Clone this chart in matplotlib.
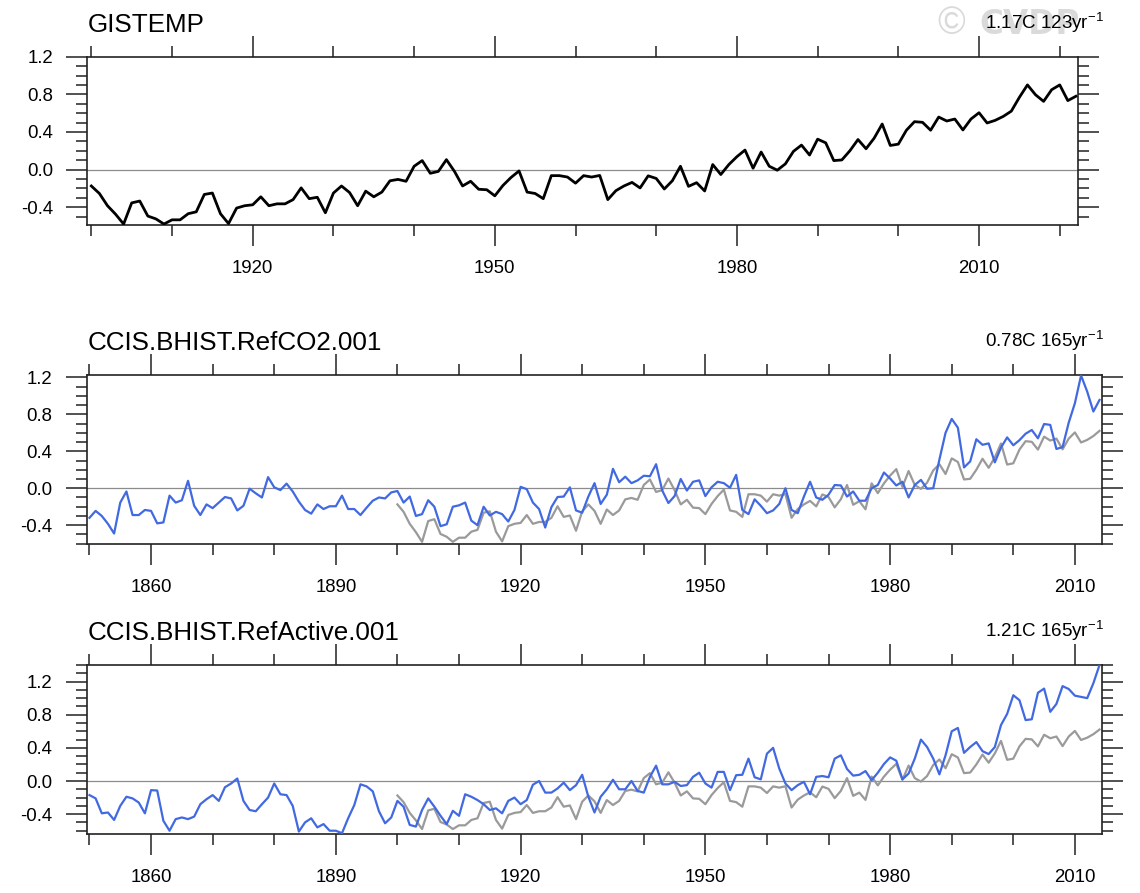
import numpy as np
import matplotlib
matplotlib.use("Agg")
import matplotlib.pyplot as plt
from matplotlib.ticker import MultipleLocator

plt.rcParams['font.family'] = ['Liberation Sans', 'DejaVu Sans']

# ---------------- data ----------------
obs_years = np.arange(1900, 2023)
gistemp = [
    -0.175, -0.255, -0.385, -0.475, -0.58, -0.355, -0.335, -0.495, -0.525, -0.58,
    -0.535, -0.535, -0.47, -0.45, -0.265, -0.25, -0.47, -0.575, -0.41, -0.385,
    -0.375, -0.29, -0.385, -0.365, -0.365, -0.32, -0.195, -0.31, -0.295, -0.46,
    -0.25, -0.175, -0.245, -0.385, -0.23, -0.29, -0.24, -0.12, -0.105, -0.125,
    0.035, 0.095, -0.04, -0.02, 0.105, -0.02, -0.175, -0.125, -0.21, -0.215,
    -0.28, -0.17, -0.085, -0.015, -0.24, -0.255, -0.31, -0.065, -0.065, -0.08,
    -0.145, -0.065, -0.08, -0.063, -0.32, -0.225, -0.175, -0.137, -0.196, -0.067,
    -0.095, -0.207, -0.119, 0.035, -0.179, -0.14, -0.228, 0.053, -0.053, 0.053,
    0.137, 0.207, 0.014, 0.186, 0.035, -0.007, 0.06, 0.193, 0.26, 0.154,
    0.323, 0.284, 0.095, 0.102, 0.2, 0.319, 0.221, 0.333, 0.484, 0.256,
    0.27, 0.418, 0.509, 0.502, 0.418, 0.558, 0.516, 0.537, 0.421, 0.537,
    0.604, 0.495, 0.523, 0.565, 0.621, 0.768, 0.9, 0.795, 0.725, 0.849,
    0.9, 0.733, 0.779,
]

model_years = np.arange(1850, 2015)
refco2 = [
    -0.32, -0.245, -0.30, -0.385, -0.49, -0.155, -0.035, -0.29, -0.29, -0.235,
    -0.245, -0.38, -0.37, -0.08, -0.155, -0.13, 0.08, -0.19, -0.29, -0.175,
    -0.215, -0.155, -0.095, -0.11, -0.24, -0.19, -0.005, -0.055, -0.10, 0.12,
    0.01, -0.02, 0.05, -0.035, -0.145, -0.235, -0.275, -0.175, -0.225, -0.195,
    -0.195, -0.08, -0.225, -0.225, -0.29, -0.21, -0.135, -0.10, -0.11, -0.045,
    -0.03, -0.155, -0.09, -0.30, -0.28, -0.13, -0.20, -0.41, -0.39, -0.20,
    -0.185, -0.155, -0.35, -0.40, -0.20, -0.295, -0.255, -0.28, -0.36, -0.235,
    0.015, -0.01, -0.155, -0.225, -0.425, -0.205, -0.095, -0.09, 0.01, -0.24,
    -0.265, -0.09, 0.055, -0.17, -0.07, 0.21, 0.065, 0.125, 0.055, 0.085,
    0.135, 0.13, 0.26, -0.025, -0.16, -0.085, 0.10, -0.025, 0.07, 0.085,
    -0.085, 0.01, 0.07, 0.055, 0.005, 0.145, -0.235, -0.28, -0.12, -0.19,
    -0.27, -0.24, -0.17, 0.00, -0.235, -0.27, -0.09, 0.07, -0.10, -0.125,
    -0.07, 0.035, 0.03, -0.09, -0.035, -0.135, -0.135, 0.0, 0.035, 0.17,
    0.105, 0.03, 0.07, -0.10, 0.035, 0.09, -0.005, 0.0, 0.31, 0.60,
    0.75, 0.655, 0.225, 0.29, 0.53, 0.47, 0.485, 0.28, 0.44, 0.55,
    0.465, 0.52, 0.59, 0.63, 0.54, 0.695, 0.685, 0.425, 0.445, 0.71,
    0.92, 1.22, 1.045, 0.83, 0.955,
]
refactive = [
    -0.17, -0.21, -0.39, -0.38, -0.47, -0.30, -0.19, -0.21, -0.26, -0.39,
    -0.11, -0.115, -0.48, -0.60, -0.46, -0.44, -0.46, -0.43, -0.28, -0.22,
    -0.17, -0.24, -0.075, -0.03, 0.03, -0.24, -0.35, -0.365, -0.28, -0.20,
    -0.03, -0.16, -0.17, -0.30, -0.61, -0.50, -0.45, -0.56, -0.52, -0.60,
    -0.60, -0.63, -0.45, -0.29, -0.04, -0.065, -0.125, -0.365, -0.51, -0.44,
    -0.24, -0.31, -0.53, -0.55, -0.35, -0.21, -0.31, -0.42, -0.52, -0.36,
    -0.42, -0.16, -0.19, -0.23, -0.28, -0.35, -0.33, -0.39, -0.24, -0.20,
    -0.28, -0.23, -0.045, 0.00, -0.14, -0.14, -0.09, -0.02, -0.11, -0.05,
    0.075, -0.19, -0.38, -0.19, -0.10, 0.015, -0.10, -0.10, 0.00, -0.12,
    -0.14, 0.05, 0.185, -0.04, -0.04, -0.01, -0.06, -0.05, 0.05, 0.10,
    -0.03, -0.08, 0.11, 0.11, -0.11, 0.07, 0.075, 0.27, 0.045, 0.02,
    0.33, 0.40, 0.15, -0.03, -0.11, -0.05, -0.01, -0.16, 0.05, 0.06,
    0.045, 0.27, 0.31, 0.145, 0.065, 0.075, 0.12, 0.01, 0.10, 0.205,
    0.285, 0.245, 0.02, 0.09, 0.27, 0.50, 0.41, 0.27, 0.08, 0.31,
    0.60, 0.64, 0.34, 0.41, 0.47, 0.36, 0.325, 0.41, 0.675, 0.81,
    1.035, 0.975, 0.735, 0.745, 1.065, 1.115, 0.835, 0.93, 1.145, 1.11,
    1.03, 1.015, 1.00, 1.18, 1.40,
]

titles_left = ["GISTEMP", "CCIS.BHIST.RefCO2.001", "CCIS.BHIST.RefActive.001"]
trend_vals = ["1.17C 123yr", "0.78C 165yr", "1.21C 165yr"]

# ---------------- figure ----------------
W, H = 1140, 893
fig = plt.figure(figsize=(W / 100, H / 100), dpi=100)


def fbox(left, top, right, bottom):
    return [left / W, 1 - bottom / H, (right - left) / W, (bottom - top) / H]


boxes = [fbox(87.3, 56.7, 1078.3, 225.0),
         fbox(86.7, 375.0, 1102.3, 543.7),
         fbox(86.7, 665.0, 1102.3, 833.7)]
ylims = [(-0.59, 1.2), (-0.60, 1.225), (-0.636, 1.40)]
xlims = [(1899.5, 2022.3), (1849.55, 2014.45), (1849.55, 2014.45)]
title_base = [32, 350, 640]
right_base = [29, 347, 637]

BLUE = '#4169E1'
GRAY = '#9a9a9a'
FRAME = '#222222'

gist = np.array(gistemp)
overlap = (obs_years >= 1900) & (obs_years <= 2014)

for i, box in enumerate(boxes):
    ax = fig.add_axes(box)
    ax.axhline(0, color='#8c8c8c', lw=0.9, zorder=1)
    if i == 0:
        ax.plot(obs_years, gist, color='black', lw=2.0, zorder=3)
        ax.set_xticks([1920, 1950, 1980, 2010])
        ax.set_xticks(np.arange(1900, 2021, 10), minor=True)
    else:
        series = refco2 if i == 1 else refactive
        ax.plot(obs_years[overlap], gist[overlap], color=GRAY, lw=1.6, zorder=2)
        ax.plot(model_years, series, color=BLUE, lw=1.6, zorder=3)
        ax.set_xticks([1860, 1890, 1920, 1950, 1980, 2010])
        ax.set_xticks(np.arange(1850, 2011, 10), minor=True)
    ax.set_xlim(*xlims[i])
    ax.set_ylim(*ylims[i])
    ax.set_yticks([-0.4, 0.0, 0.4, 0.8, 1.2])
    ax.set_yticklabels(['-0.4', '0.0', '0.4', '0.8', '1.2'])
    ax.yaxis.set_minor_locator(MultipleLocator(0.1))
    ax.tick_params(which='both', direction='out', top=True, right=True,
                   labeltop=False, labelright=False, color='#333333',
                   width=1.2, labelsize=13.4, labelcolor='black')
    ax.tick_params(which='major', length=14.9)
    ax.tick_params(which='minor', length=7.7)
    ax.tick_params(axis='x', which='major', pad=10.5)
    ax.tick_params(axis='y', which='major', pad=9.8)
    for sp in ax.spines.values():
        sp.set_color(FRAME)
        sp.set_linewidth(1.2)

    fig.text(88 / W, 1 - title_base[i] / H, titles_left[i], fontsize=18.7,
             ha='left', va='baseline', color='black')

# watermark (drawn behind the trend text, as in the original)
fig.text(937 / W, 1 - 34 / H, '\u00a9', fontsize=27, color='#dadada',
         ha='left', va='baseline', zorder=0)
fig.text(979 / W, 1 - 34 / H, 'CVDP', fontsize=23.5, fontweight='bold',
         family='DejaVu Sans', color='#dadada', ha='left', va='baseline',
         zorder=0)

for i in range(3):
    fig.text(1104 / W, 1 - right_base[i] / H,
             trend_vals[i] + r'$^{\mathregular{-1}}$', fontsize=13.5,
             ha='right', va='baseline', color='black', zorder=5)

fig.savefig('out.png', dpi=100)
